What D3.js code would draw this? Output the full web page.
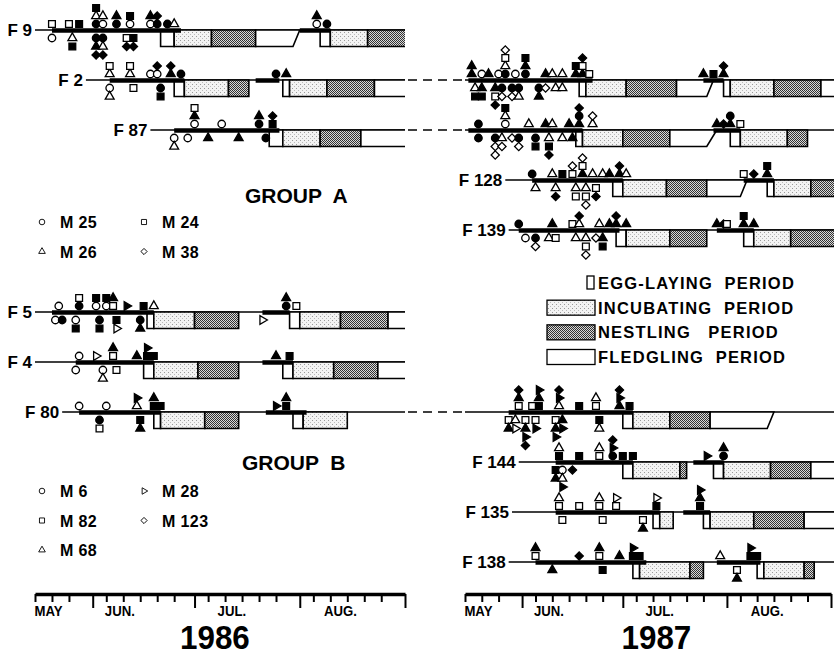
<!DOCTYPE html>
<html>
<head>
<meta charset="UTF-8">
<title>Pair bonds and nesting periods 1986-1987</title>
<style>
  body { margin: 0; background: #fff; }
  svg text { font-family: "Liberation Sans", Arial, sans-serif; font-weight: bold; fill: #000; }
</style>
</head>
<body>
<script src="https://d3js.org/d3.v7.min.js"></script>
<script>
// ---- data (dates are "month/day") ----
var years = [1986, 1987];
var axisFrom = "5/15", axisTo = "9/1";
var monthNames = ["MAY", "JUN.", "JUL.", "AUG."];
var monthLabelDays = ["5/19", "6/9", "7/12", "8/13"];
var yearLabelDays = ["7/7", "7/11"];

var groupAFemales = ["F9", "F2", "F87", "F128", "F139"];
var groupBFemales = ["F5", "F4", "F80", "F144", "F135", "F138"];
var groupAMales = ["M25", "M24", "M26", "M38"];
var groupBMales = ["M6", "M28", "M82", "M123", "M68"];
var periods = ["EGG-LAYING  PERIOD", "INCUBATING  PERIOD", "NESTLING   PERIOD", "FLEDGLING  PERIOD"];

// year, female, first day observed
var observed = [
  [1986, "F9", "5/15"], [1986, "F2", "5/30"], [1986, "F87", "6/18"],
  [1986, "F5", "5/15"], [1986, "F4", "5/15"], [1986, "F80", "5/23"],
  [1987, "F2", "5/15"], [1987, "F87", "5/15"], [1987, "F128", "5/27"], [1987, "F139", "5/28"],
  [1987, "F80", "5/15"], [1987, "F144", "5/31"], [1987, "F135", "5/29"], [1987, "F138", "5/28"]
];
var continuing = ["F2", "F87", "F80"];

// year, female, paired from, paired to
var paired = [
  [1986, "F9", "5/20", "6/27"], [1986, "F9", "8/1", "8/10"],
  [1986, "F2", "6/6", "6/28"], [1986, "F2", "7/19", "7/26"],
  [1986, "F87", "6/25", "7/26"],
  [1986, "F5", "5/20", "6/19"], [1986, "F5", "7/21", "7/29"],
  [1986, "F4", "5/27", "6/19"], [1986, "F4", "7/21", "7/30"],
  [1986, "F80", "5/28", "6/21"], [1986, "F80", "7/22", "8/3"],
  [1987, "F2", "5/16", "6/22"], [1987, "F2", "7/25", "7/31"],
  [1987, "F87", "5/16", "6/19"], [1987, "F87", "7/28", "8/5"],
  [1987, "F128", "6/4", "7/1"], [1987, "F128", "8/6", "8/15"],
  [1987, "F139", "5/31", "6/30"], [1987, "F139", "7/29", "8/9"],
  [1987, "F80", "5/28", "7/4"],
  [1987, "F144", "6/11", "7/4"], [1987, "F144", "7/22", "7/31"],
  [1987, "F135", "6/11", "7/12"], [1987, "F135", "7/19", "7/27"],
  [1987, "F138", "6/5", "7/8"], [1987, "F138", "7/29", "8/11"]
];

// year, female, egg from, egg to, incubation to, nestling to, fledgling to, fledgling fade (lower edge)
var nests = [
  [1986, "F9", "6/21", "6/25", "7/6", "7/19", "8/1", "7/30"],
  [1986, "F9", "8/7", "8/10", "8/21", "9/1", null, null],
  [1986, "F2", "6/25", "6/28", "7/11", "7/17", null, null],
  [1986, "F2", "7/27", "7/29", "8/9", "8/23", "9/1", null],
  [1986, "F87", "7/23", "7/27", "8/7", "8/19", "9/1", null],
  [1986, "F5", "6/17", "6/19", "7/1", "7/14", null, null],
  [1986, "F5", "7/29", "8/1", "8/13", "8/27", "9/1", null],
  [1986, "F4", "6/16", "6/19", "7/2", "7/14", null, null],
  [1986, "F4", "7/27", "7/30", "8/11", "8/24", "9/1", null],
  [1986, "F80", "6/19", "6/21", "7/4", "7/14", null, null],
  [1986, "F80", "7/30", "8/2", "8/15", null, null, null],
  [1987, "F2", "6/18", "6/20", "7/2", "7/17", "7/28", "7/26"],
  [1987, "F2", "7/31", "8/2", "8/15", "8/29", "9/2", null],
  [1987, "F87", "6/17", "6/19", "7/1", "7/15", "7/29", "7/26"],
  [1987, "F87", "8/2", "8/5", "8/19", "8/25", null, null],
  [1987, "F128", "6/28", "7/1", "7/14", "7/26", "8/7", "8/5"],
  [1987, "F128", "8/13", "8/15", "8/26", "9/2", null, null],
  [1987, "F139", "6/29", "7/2", "7/15", "7/26", null, null],
  [1987, "F139", "8/6", "8/9", "8/20", "9/2", null, null],
  [1987, "F80", "7/1", "7/4", "7/15", "7/27", "8/15", "8/13"],
  [1987, "F144", "7/1", "7/4", "7/18", "7/20", null, null],
  [1987, "F144", "7/28", "7/31", "8/14", "8/26", "9/2", null],
  [1987, "F135", "7/10", "7/12", "7/16", null, null, null],
  [1987, "F135", "7/25", "7/27", "8/9", "8/24", "9/2", null],
  [1987, "F138", "7/4", "7/6", "7/21", "7/25", null, null],
  [1987, "F138", "8/10", "8/12", "8/24", "8/27", null, null]
];

// male visits: day, stack (+ above line, - below), male, filled (1) or open (0)
var visits86F9 = [
  ["5/20", 1, "M24", 0], ["5/20", -1, "M25", 0], ["5/25", 1, "M24", 0], ["5/28", 1, "M24", 1],
  ["5/26", -1, "M26", 0], ["5/26", -2, "M24", 1],
  ["6/2", 1, "M25", 1], ["6/2", 2, "M26", 0], ["6/2", 3, "M24", 1],
  ["6/2", -1, "M25", 1], ["6/2", -2, "M26", 1], ["6/2", -3, "M38", 1],
  ["6/4", 1, "M25", 0], ["6/4", 2, "M26", 0], ["6/4", -1, "M25", 1], ["6/4", -2, "M26", 0], ["6/4", -3, "M38", 1],
  ["6/8", 1, "M25", 1], ["6/8", 2, "M26", 1], ["6/12", 1, "M25", 0], ["6/12", 2, "M24", 1],
  ["6/11", -1, "M24", 0], ["6/11", -2, "M38", 1], ["6/13", -1, "M24", 1], ["6/13", -2, "M38", 1],
  ["6/18", 1, "M25", 0], ["6/18", 2, "M26", 1], ["6/20", 1, "M25", 1], ["6/20", 2, "M38", 1],
  ["6/23", 1, "M25", 1], ["6/25", 1, "M26", 0],
  ["8/6", 1, "M25", 0], ["8/6", 2, "M26", 1], ["8/9", 1, "M25", 1]
];
var visits86F2 = [
  ["6/6", 1, "M26", 0], ["6/6", 2, "M24", 0], ["6/6", -1, "M25", 0], ["6/6", -2, "M26", 0],
  ["6/12", 1, "M26", 0], ["6/12", 2, "M24", 0], ["6/13", -1, "M24", 0],
  ["6/18", 1, "M25", 0], ["6/20", 1, "M25", 0], ["6/20", 2, "M38", 1],
  ["6/21", -1, "M25", 1], ["6/21", -2, "M24", 1], ["6/24", 1, "M26", 1], ["6/24", 2, "M38", 1],
  ["6/27", 1, "M25", 1], ["7/25", 1, "M25", 1], ["7/28", 1, "M26", 1]
];
var visits86F87 = [
  ["6/25", -1, "M25", 0], ["6/25", -2, "M26", 0], ["6/29", -1, "M25", 0],
  ["7/1", 1, "M25", 0], ["7/1", 2, "M26", 1], ["7/1", 3, "M24", 0],
  ["7/5", -1, "M26", 1], ["7/9", 1, "M25", 0], ["7/14", -1, "M26", 1],
  ["7/20", 1, "M25", 1], ["7/20", 2, "M26", 1], ["7/22", -1, "M25", 1],
  ["7/24", 1, "M24", 1], ["7/24", 2, "M38", 1]
];
var visits87F2 = [
  ["5/17", 1, "M26", 1], ["5/17", 2, "M26", 1], ["5/20", 1, "M25", 0], ["5/22", 1, "M26", 1],
  ["5/25", 1, "M25", 0], ["5/27", 1, "M25", 1], ["5/27", 2, "M26", 0], ["5/27", 3, "M24", 0], ["5/27", 4, "M38", 0],
  ["5/30", 1, "M25", 0], ["6/2", 1, "M25", 1], ["6/2", 2, "M26", 1], ["6/2", 3, "M24", 1],
  ["6/8", 1, "M26", 1], ["6/10", 1, "M26", 0], ["6/13", 1, "M26", 0],
  ["6/17", 1, "M26", 1], ["6/17", 2, "M24", 1], ["6/19", 1, "M26", 1], ["6/19", 2, "M24", 0], ["6/19", 3, "M38", 1],
  ["6/21", 1, "M24", 0],
  ["5/18", -1, "M26", 0], ["5/18", -2, "M24", 1], ["5/20", -1, "M26", 1], ["5/20", -2, "M24", 1],
  ["5/24", -1, "M26", 1], ["5/24", -2, "M24", 0], ["5/24", -3, "M38", 1],
  ["5/26", -1, "M25", 1], ["5/26", -2, "M38", 0], ["5/29", -1, "M25", 1], ["5/29", -2, "M38", 0],
  ["5/31", -1, "M25", 1], ["5/31", -2, "M26", 0], ["6/6", -1, "M25", 1], ["6/6", -2, "M26", 1],
  ["6/8", -1, "M38", 0], ["6/11", -1, "M26", 0], ["6/13", -1, "M26", 0],
  ["7/25", 1, "M26", 1], ["7/28", 1, "M24", 1], ["7/31", 1, "M26", 1], ["7/31", 2, "M38", 1]
];
var visits87F87 = [
  ["5/19", 1, "M25", 1], ["5/19", -1, "M25", 1],
  ["5/27", 1, "M25", 0], ["5/27", 2, "M26", 0], ["5/27", 3, "M24", 1],
  ["6/3", 1, "M26", 0], ["6/8", 1, "M26", 1], ["6/10", 1, "M26", 0], ["6/15", 1, "M26", 1],
  ["6/18", 1, "M26", 1], ["6/18", 2, "M25", 1], ["6/18", 3, "M38", 1], ["6/22", 1, "M26", 0], ["6/22", 2, "M38", 0],
  ["5/24", -1, "M25", 1], ["5/24", -2, "M38", 0], ["5/24", -3, "M38", 0],
  ["5/26", -1, "M26", 0], ["5/26", -2, "M38", 0], ["5/29", -1, "M38", 0],
  ["5/31", -1, "M25", 1], ["5/31", -2, "M38", 0], ["6/5", -1, "M25", 1], ["6/5", -2, "M24", 1],
  ["6/9", -1, "M26", 0], ["6/9", -2, "M24", 1], ["6/9", -3, "M38", 1],
  ["6/13", -1, "M26", 0], ["6/16", -1, "M26", 1],
  ["7/29", 1, "M26", 1], ["7/31", 1, "M38", 1], ["8/2", 1, "M26", 1], ["8/2", 2, "M25", 1], ["8/5", 1, "M24", 0]
];
var visits87F128 = [
  ["6/4", 1, "M25", 1], ["6/10", 1, "M26", 0], ["6/13", 1, "M24", 1],
  ["6/16", 1, "M24", 0], ["6/16", 2, "M38", 0], ["6/19", 1, "M26", 1], ["6/19", 2, "M24", 0], ["6/19", 3, "M38", 0],
  ["6/22", 1, "M26", 0], ["6/25", 1, "M26", 0], ["6/27", 1, "M26", 1],
  ["6/30", 1, "M26", 1], ["6/30", 2, "M38", 1], ["7/2", 1, "M26", 0],
  ["6/5", -1, "M26", 0], ["6/11", -1, "M26", 0], ["6/11", -2, "M38", 1],
  ["6/17", -1, "M26", 0], ["6/17", -2, "M24", 0], ["6/20", -1, "M26", 0], ["6/20", -2, "M24", 0], ["6/20", -3, "M38", 0],
  ["6/23", -1, "M24", 0], ["6/23", -2, "M38", 1],
  ["8/6", 1, "M24", 0], ["8/9", 1, "M38", 1], ["8/13", 1, "M26", 1], ["8/13", 2, "M24", 1]
];
var visits87F139 = [
  ["5/31", 1, "M25", 1], ["6/10", 1, "M26", 1], ["6/16", 1, "M24", 0],
  ["6/18", 1, "M26", 0], ["6/18", 2, "M38", 1], ["6/24", 1, "M26", 0], ["6/27", 1, "M26", 1],
  ["6/29", 1, "M26", 1], ["6/29", 2, "M38", 1], ["7/2", 1, "M26", 1],
  ["6/2", -1, "M25", 0], ["6/5", -1, "M25", 1], ["6/5", -2, "M38", 0],
  ["6/9", -1, "M26", 0], ["6/11", -1, "M24", 0], ["6/17", -1, "M26", 0],
  ["6/20", -1, "M26", 0], ["6/20", -2, "M24", 0], ["6/20", -3, "M38", 0],
  ["6/23", -1, "M38", 0], ["6/25", -1, "M26", 1], ["6/25", -2, "M24", 1],
  ["7/29", 1, "M26", 1], ["7/31", 1, "M38", 1], ["8/1", 1, "M24", 0],
  ["8/6", 1, "M26", 1], ["8/6", 2, "M24", 1], ["8/9", 1, "M26", 1]
];
var visits86F5 = [
  ["5/22", 1, "M6", 0], ["5/28", 1, "M6", 1], ["5/28", 2, "M82", 0],
  ["6/2", 1, "M6", 0], ["6/2", 2, "M82", 1], ["6/5", 1, "M6", 0], ["6/5", 2, "M82", 1],
  ["6/7", 1, "M82", 0], ["6/7", 2, "M68", 1], ["6/11", 1, "M28", 1], ["6/16", 1, "M82", 1], ["6/19", 1, "M68", 0],
  ["5/21", -1, "M6", 0], ["5/23", -1, "M6", 1], ["5/27", -1, "M6", 0], ["5/27", -2, "M82", 1],
  ["6/3", -1, "M6", 1], ["6/3", -2, "M82", 1], ["6/8", -1, "M82", 1], ["6/8", -2, "M28", 0],
  ["6/15", -1, "M6", 1], ["6/15", -2, "M68", 1],
  ["7/28", 1, "M6", 1], ["7/28", 2, "M68", 1], ["7/31", 1, "M82", 0], ["7/21", -1, "M28", 0]
];
var visits86F4 = [
  ["5/28", 1, "M6", 0], ["6/2", 1, "M28", 0], ["6/7", 1, "M82", 0], ["6/7", 2, "M68", 1],
  ["6/14", 1, "M68", 1], ["6/17", 1, "M82", 1], ["6/17", 2, "M28", 1], ["6/19", 1, "M82", 1],
  ["5/27", -1, "M6", 0], ["6/4", -1, "M6", 0], ["6/4", -2, "M68", 0], ["6/8", -1, "M82", 0],
  ["7/25", 1, "M68", 1], ["7/29", 1, "M82", 1]
];
var visits86F80 = [
  ["5/28", 1, "M6", 0], ["6/5", 1, "M6", 0], ["6/14", 1, "M68", 0], ["6/14", 2, "M28", 1],
  ["6/19", 1, "M82", 1], ["6/19", 2, "M68", 1], ["6/21", 1, "M82", 1],
  ["6/3", -1, "M6", 1], ["6/3", -2, "M82", 0], ["6/15", -1, "M82", 1], ["6/15", -2, "M68", 1],
  ["7/25", 1, "M28", 1], ["7/28", 1, "M82", 1], ["7/28", 2, "M68", 1]
];
var visits87F80 = [
  ["5/31", 1, "M82", 0], ["5/31", 2, "M68", 1], ["5/31", 3, "M123", 1], ["6/4", 1, "M82", 0],
  ["6/6", 1, "M82", 1], ["6/6", 2, "M68", 1], ["6/6", 3, "M28", 1],
  ["6/12", 1, "M68", 0], ["6/12", 2, "M28", 1], ["6/12", 3, "M123", 1], ["6/18", 1, "M82", 1],
  ["6/23", 1, "M82", 0], ["6/23", 2, "M68", 0],
  ["6/30", 1, "M68", 1], ["6/30", 2, "M28", 1], ["6/30", 3, "M123", 1], ["7/3", 1, "M82", 1],
  ["5/28", -1, "M82", 0], ["5/28", -2, "M68", 1], ["5/30", -1, "M68", 0], ["5/30", -2, "M28", 0],
  ["6/2", -1, "M82", 0], ["6/2", -2, "M68", 1], ["6/2", -3, "M28", 1], ["6/2", -4, "M123", 1],
  ["6/5", -1, "M82", 0], ["6/5", -2, "M28", 1],
  ["6/11", -1, "M82", 0], ["6/11", -2, "M68", 1], ["6/11", -3, "M28", 1],
  ["6/13", -1, "M68", 1], ["6/13", -2, "M28", 1], ["6/24", -1, "M82", 1], ["6/24", -2, "M68", 0]
];
var visits87F144 = [
  ["6/12", 1, "M82", 1], ["6/12", 2, "M68", 0], ["6/18", 1, "M82", 1],
  ["6/24", 1, "M82", 0], ["6/24", 2, "M68", 0],
  ["6/28", 1, "M6", 1], ["6/28", 2, "M28", 1], ["6/28", 3, "M123", 1], ["7/1", 1, "M82", 1], ["7/4", 1, "M82", 1],
  ["6/11", -1, "M82", 1], ["6/11", -2, "M68", 1],
  ["6/13", -1, "M6", 0], ["6/13", -2, "M68", 0], ["6/13", -3, "M28", 1], ["6/16", -1, "M123", 1],
  ["7/26", 1, "M28", 1], ["7/31", 1, "M6", 1], ["7/31", 2, "M68", 1]
];
var visits87F135 = [
  ["6/12", 1, "M82", 0], ["6/12", 2, "M68", 0], ["6/18", 1, "M82", 0],
  ["6/24", 1, "M82", 0], ["6/24", 2, "M68", 0], ["6/29", 1, "M82", 0], ["6/29", 2, "M28", 0],
  ["7/11", 1, "M82", 1], ["7/11", 2, "M28", 0],
  ["6/13", -1, "M82", 0], ["6/25", -1, "M82", 0], ["7/7", -1, "M82", 0], ["7/7", -2, "M68", 1],
  ["7/24", 1, "M82", 1], ["7/24", 2, "M68", 1], ["7/24", 3, "M28", 1]
];
var visits87F138 = [
  ["6/5", 1, "M82", 0], ["6/5", 2, "M68", 1], ["6/18", 1, "M123", 1],
  ["6/24", 1, "M82", 0], ["6/24", 2, "M68", 1], ["6/30", 1, "M68", 1],
  ["7/4", 1, "M82", 1], ["7/4", 2, "M28", 1], ["7/6", 1, "M82", 1],
  ["6/10", -1, "M68", 1], ["6/25", -1, "M82", 1],
  ["7/30", 1, "M68", 0], ["8/8", 1, "M82", 1], ["8/8", 2, "M28", 1], ["8/10", 1, "M82", 1],
  ["8/4", -1, "M82", 0], ["8/4", -2, "M68", 1]
];

var visitSets = [
  [1986, "F9", visits86F9], [1986, "F2", visits86F2], [1986, "F87", visits86F87],
  [1987, "F2", visits87F2], [1987, "F87", visits87F87], [1987, "F128", visits87F128], [1987, "F139", visits87F139],
  [1986, "F5", visits86F5], [1986, "F4", visits86F4], [1986, "F80", visits86F80],
  [1987, "F80", visits87F80], [1987, "F144", visits87F144], [1987, "F135", visits87F135], [1987, "F138", visits87F138]
];

// ---- drawing ----
var W = 834, H = 656;
var BOX = 16.5;

function day(year, s) {
  var p = s.split("/").map(Number);
  return new Date(year, p[0] - 1, p[1]);
}

var x = {};
x[1986] = d3.scaleTime().domain([day(1986, axisFrom), day(1986, axisTo)]).range([35, 405]);
x[1987] = d3.scaleTime().domain([day(1987, axisFrom), day(1987, axisTo)]).range([465, 831]);
var lineEnd = {1986: 405, 1987: W};

var yA = d3.scalePoint().domain(groupAFemales).range([30, 230]);
var yB = d3.scalePoint().domain(groupBFemales).range([312, 562]);
function rowY(f) { return groupAFemales.indexOf(f) >= 0 ? yA(f) : yB(f); }

var shapeA = d3.scaleOrdinal().domain(groupAMales).range(["circle", "square", "triangle", "diamond"]);
var shapeB = d3.scaleOrdinal().domain(groupBMales).range(["circle", "flag", "square", "diamond", "triangle"]);
function shapeOf(m) { return groupAMales.indexOf(m) >= 0 ? shapeA(m) : shapeB(m); }

var symPath = {
  circle: d3.symbol(d3.symbolCircle, 44)(),
  square: d3.symbol(d3.symbolSquare, 46)(),
  triangle: d3.symbol(d3.symbolTriangle, 34)(),
  diamond: d3.symbol(d3.symbolSquare, 34)(),
  flag: d3.symbol(d3.symbolTriangle, 32)()
};
var symRot = {circle: 0, square: 0, triangle: 0, diamond: 45, flag: 90};

function levelY(base, L) {
  return L > 0 ? base - 6 - (L - 1) * 8 : base + 8 + (-L - 1) * 8.5;
}

// squeeze a text to a share of its natural width (the original lettering is condensed)
function condense(sel, k) {
  sel.each(function () {
    var w = this.getComputedTextLength();
    d3.select(this).attr("textLength", w * k).attr("lengthAdjust", "spacingAndGlyphs");
  });
}

var svg = d3.select("body").append("svg")
  .attr("width", W).attr("height", H)
  .style("background", "#fff");

// fills for the nesting periods
var defs = svg.append("defs");
var stip = defs.append("pattern").attr("id", "stipple")
  .attr("width", 4).attr("height", 4).attr("patternUnits", "userSpaceOnUse");
stip.append("rect").attr("width", 4).attr("height", 4).attr("fill", "#f3f3f3");
stip.append("rect").attr("x", 0).attr("y", 0).attr("width", 1).attr("height", 1).attr("fill", "#999");
stip.append("rect").attr("x", 2).attr("y", 2).attr("width", 1).attr("height", 1).attr("fill", "#bbb");
var hatch = defs.append("pattern").attr("id", "hatch")
  .attr("width", 2).attr("height", 2).attr("patternUnits", "userSpaceOnUse");
hatch.append("rect").attr("width", 2).attr("height", 2).attr("fill", "#d8d8d8");
hatch.append("rect").attr("x", 0).attr("y", 0).attr("width", 1).attr("height", 1).attr("fill", "#333");
hatch.append("rect").attr("x", 1).attr("y", 1).attr("width", 1).attr("height", 1).attr("fill", "#333");
var periodFill = ["#fff", "url(#stipple)", "url(#hatch)", "#fff"];

// baselines and labels
var lines = svg.append("g");
observed.forEach(function (o) {
  var yr = o[0], f = o[1], y = rowY(f);
  var x0 = x[yr](day(yr, o[2]));
  lines.append("line")
    .attr("x1", x0).attr("x2", lineEnd[yr]).attr("y1", y).attr("y2", y)
    .attr("stroke", "#000").attr("stroke-width", 1.3);
  var carried = yr === 1987 && continuing.indexOf(f) >= 0;
  if (!carried) {
    lines.append("text")
      .attr("x", x0 - 3).attr("y", y + 6)
      .attr("text-anchor", "end").attr("font-size", 17)
      .style("white-space", "pre")
      .text(f.replace("F", "F "));
  }
});
// dashed link between the two seasons
continuing.forEach(function (f) {
  var y = rowY(f);
  lines.append("line")
    .attr("x1", x[1986].range()[1] + 3).attr("x2", x[1987].range()[0] - 2)
    .attr("y1", y).attr("y2", y)
    .attr("stroke", "#000").attr("stroke-width", 1.3)
    .attr("stroke-dasharray", "9,6");
});

// nesting boxes
var boxes = svg.append("g");
nests.forEach(function (n) {
  var yr = n[0], y = rowY(n[1]), sx = x[yr];
  var edges = [n[2], n[3], n[4], n[5], n[6]];
  for (var i = 0; i < 4; i++) {
    if (!edges[i] || !edges[i + 1]) break;
    var a = sx(day(yr, edges[i])), b = sx(day(yr, edges[i + 1]));
    var bLow = (i === 3 && n[7]) ? sx(day(yr, n[7])) : b;
    var open = day(yr, edges[i + 1]) >= day(yr, axisTo);
    boxes.append("path")
      .attr("d", "M" + a + "," + y + "L" + b + "," + y + "L" + bLow + "," + (y + BOX) + "L" + a + "," + (y + BOX) + "Z")
      .attr("fill", periodFill[i]).attr("stroke", "none");
    var outline = open
      ? "M" + b + "," + y + "L" + a + "," + y + "L" + a + "," + (y + BOX) + "L" + b + "," + (y + BOX)
      : "M" + a + "," + y + "L" + b + "," + y + "L" + bLow + "," + (y + BOX) + "L" + a + "," + (y + BOX) + "Z";
    boxes.append("path").attr("d", outline)
      .attr("fill", "none").attr("stroke", "#000").attr("stroke-width", 1.6)
      .attr("stroke-linejoin", "miter");
  }
});

// paired periods (thick bars)
svg.append("g").selectAll("line").data(paired).join("line")
  .attr("x1", function (d) { return x[d[0]](day(d[0], d[2])); })
  .attr("x2", function (d) { return x[d[0]](day(d[0], d[3])); })
  .attr("y1", function (d) { return rowY(d[1]) + 0.5; })
  .attr("y2", function (d) { return rowY(d[1]) + 0.5; })
  .attr("stroke", "#000").attr("stroke-width", 4.5);

// male visits
var marks = [];
visitSets.forEach(function (s) {
  s[2].forEach(function (v) {
    marks.push({year: s[0], female: s[1], date: v[0], level: v[1], male: v[2], filled: v[3]});
  });
});
svg.append("g").selectAll("path").data(marks).join("path")
  .attr("d", function (d) { return symPath[shapeOf(d.male)]; })
  .attr("transform", function (d) {
    var px = x[d.year](day(d.year, d.date));
    var py = levelY(rowY(d.female), d.level);
    return "translate(" + px + "," + py + ") rotate(" + symRot[shapeOf(d.male)] + ")";
  })
  .attr("fill", function (d) { return d.filled ? "#000" : "#fff"; })
  .attr("stroke", "#000").attr("stroke-width", 1.3);

// time axes
years.forEach(function (yr, yi) {
  var sx = x[yr];
  var tickDays = d3.timeDay.range(day(yr, axisFrom), d3.timeDay.offset(day(yr, axisTo), 1))
    .filter(function (d) { var dd = d.getDate(); return dd === 1 || (dd % 5 === 0 && dd < 30); });
  var ax = d3.axisBottom(sx).tickValues(tickDays).tickFormat("").tickSizeOuter(0).tickSizeInner(8);
  var g = svg.append("g").attr("transform", "translate(0,594)").call(ax);
  g.select(".domain").attr("stroke-width", 3.5);
  g.selectAll(".tick line").attr("stroke-width", 2)
    .attr("y2", function (d) { return d.getDate() === 1 ? 14 : 8; });
  monthNames.forEach(function (m, i) {
    svg.append("text")
      .attr("x", sx(day(yr, monthLabelDays[i]))).attr("y", 615.5)
      .attr("text-anchor", "middle").attr("font-size", 15.5)
      .text(m).call(condense, 0.85);
  });
  svg.append("text")
    .attr("x", sx(day(yr, yearLabelDays[yi]))).attr("y", 649)
    .attr("text-anchor", "middle").attr("font-size", 33)
    .text(yr).call(condense, 0.95);
});

// group titles and male legends
function maleLegend(males, top) {
  males.forEach(function (m, i) {
    var lx = 42 + (i % 2) * 102, ly = top + Math.floor(i / 2) * 29.5;
    svg.append("path")
      .attr("d", symPath[shapeOf(m)])
      .attr("transform", "translate(" + lx + "," + ly + ") rotate(" + symRot[shapeOf(m)] + ") scale(0.75)")
      .attr("fill", "#fff").attr("stroke", "#000").attr("stroke-width", 1.2);
    svg.append("text")
      .attr("x", lx + 18).attr("y", ly + 6)
      .attr("font-size", 16).attr("letter-spacing", 0.4).style("white-space", "pre")
      .text(m.replace("M", "M "));
  });
}
svg.append("text").attr("x", 245).attr("y", 203).attr("font-size", 21)
  .style("white-space", "pre").text("GROUP  A");
svg.append("text").attr("x", 242).attr("y", 470).attr("font-size", 21)
  .style("white-space", "pre").text("GROUP  B");
maleLegend(groupAMales, 222);
maleLegend(groupBMales, 491);

// period legend
var legY = d3.scalePoint().domain(periods).range([283, 357]);
periods.forEach(function (p, i) {
  var cy = legY(p);
  if (i === 0) {
    svg.append("rect").attr("x", 587).attr("y", cy - 7).attr("width", 7).attr("height", 13)
      .attr("fill", "#fff").attr("stroke", "#000").attr("stroke-width", 1.3);
  } else {
    svg.append("rect").attr("x", 547).attr("y", cy - 7.5).attr("width", 48).attr("height", 15)
      .attr("fill", periodFill[i]).attr("stroke", "#000").attr("stroke-width", 1.3);
  }
  svg.append("text").attr("x", 598).attr("y", cy + 6)
    .attr("font-size", 16.5).attr("letter-spacing", 1.2).style("white-space", "pre")
    .text(p);
});
</script>
</body>
</html>
